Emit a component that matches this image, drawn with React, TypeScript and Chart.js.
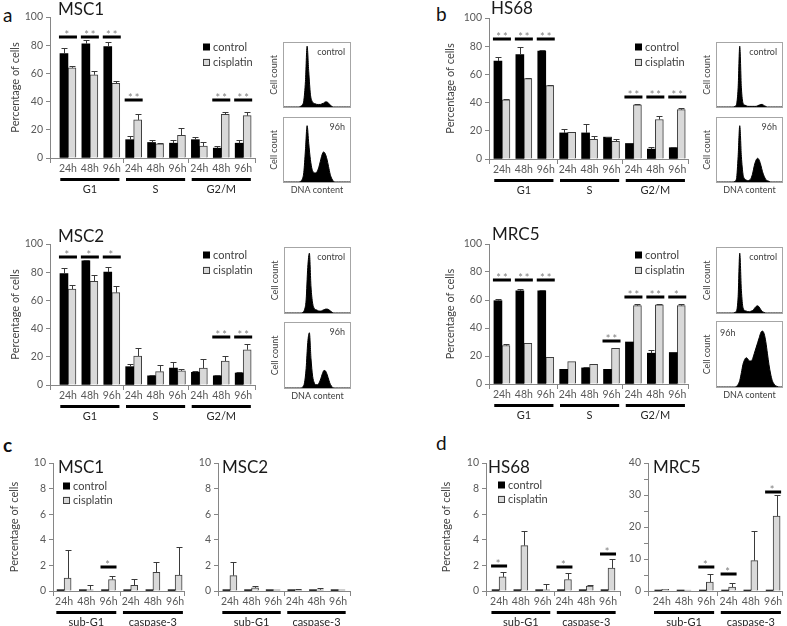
import React, { useEffect, useRef } from 'react';
import { Chart, registerables } from 'chart.js';

Chart.register(...registerables);

const FONT = 'Lato, "DejaVu Sans", sans-serif';
Chart.defaults.font.family = FONT;

// ---------------- data ----------------
const CYCLE_TIMES = ['24h', '48h', '96h', '24h', '48h', '96h', '24h', '48h', '96h'];
const CYCLE_GROUPS = ['G1', 'S', 'G2/M'];
const APOP_TIMES = ['24h', '48h', '96h', '24h', '48h', '96h'];
const APOP_GROUPS = ['sub-G1', 'caspase-3'];
const SERIES = ['control', 'cisplatin'];

// panel a – MSC1 cell cycle
const MSC1_CONTROL = [74, 81, 79, 13, 11, 10.5, 13, 7, 10.5];
const MSC1_CONTROL_ERR = [4, 3, 3, 2.5, 2, 2.5, 2, 1.5, 2];
const MSC1_CISPLATIN = [64, 59, 53, 27, 10, 16, 8.5, 31, 30];
const MSC1_CISPLATIN_ERR = [1, 3, 1.5, 4.5, 0.5, 5, 3, 1.5, 2.5];
const MSC1_SIG: [number, number, string][] = [[0, 86, '*'], [1, 86, '**'], [2, 86, '**'], [3, 41, '**'], [7, 41, '**'], [8, 41, '**']];

// panel b – HS68 cell cycle
const HS68_CONTROL = [69.5, 74, 76.5, 18.5, 18.5, 15.5, 11, 7, 8];
const HS68_CONTROL_ERR = [3, 5.5, 0.5, 3, 6, 0.3, 0, 1.5, 0.3];
const HS68_CISPLATIN = [42, 57, 52, 19, 14, 12.5, 38.5, 28, 35];
const HS68_CISPLATIN_ERR = [0.3, 0.5, 0.3, 0.5, 2, 1.5, 0.5, 2.5, 1];
const HS68_SIG: [number, number, string][] = [[0, 85, '**'], [1, 85, '**'], [2, 85, '**'], [6, 44, '**'], [7, 44, '**'], [8, 44, '**']];

// panel a – MSC2 cell cycle
const MSC2_CONTROL = [79, 88, 80, 13, 6.5, 12, 9, 6.5, 8.5];
const MSC2_CONTROL_ERR = [4, 0.5, 4, 2, 0.5, 4, 1, 0.5, 0.5];
const MSC2_CISPLATIN = [68, 73.5, 65.5, 20.5, 9.5, 10, 12, 17, 25];
const MSC2_CISPLATIN_ERR = [3, 4.5, 5, 6, 4.5, 1.5, 6.5, 3.5, 4];
const MSC2_SIG: [number, number, string][] = [[0, 91, '*'], [1, 91, '*'], [2, 91, '*'], [7, 34, '**'], [8, 34, '**']];

// panel b – MRC5 cell cycle
const MRC5_CONTROL = [59.5, 66.5, 66.5, 10.5, 11.5, 10.5, 30, 22, 22.5];
const MRC5_CONTROL_ERR = [1, 1.5, 1, 0, 1, 0, 0, 2, 0];
const MRC5_CISPLATIN = [27.5, 29, 19, 16, 14, 25.5, 56, 56.5, 56];
const MRC5_CISPLATIN_ERR = [1, 0, 0, 0, 0.5, 0.3, 1.5, 0.3, 1];
const MRC5_SIG: [number, number, string][] = [[0, 74, '**'], [1, 74, '**'], [2, 74, '**'], [5, 31, '**'], [6, 62, '**'], [7, 62, '**'], [8, 62, '*']];

// panel c – MSC1 apoptosis
const MSC1_APO_CONTROL = [0.1, 0.1, 0.1, 0.1, 0.1, 0.1];
const MSC1_APO_CONTROL_ERR = [0, 0, 0, 0, 0, 0];
const MSC1_APO_CISPLATIN = [1.0, 0.1, 0.9, 0.45, 1.45, 1.25];
const MSC1_APO_CISPLATIN_ERR = [2.2, 0.4, 0.3, 0.5, 0.8, 2.15];
const MSC1_APO_SIG: [number, number, string][] = [[2, 1.9, '*']];

// panel c – MSC2 apoptosis
const MSC2_APO_CONTROL = [0.1, 0.1, 0.1, 0.1, 0.1, 0.1];
const MSC2_APO_CONTROL_ERR = [0, 0, 0, 0, 0, 0];
const MSC2_APO_CISPLATIN = [1.2, 0.25, 0.1, 0.1, 0.1, 0.1];
const MSC2_APO_CISPLATIN_ERR = [1.05, 0.15, 0, 0.05, 0.15, 0];
const MSC2_APO_SIG: [number, number, string][] = [];

// panel d – HS68 apoptosis
const HS68_APO_CONTROL = [0.1, 0.1, 0.1, 0.1, 0.1, 0.1];
const HS68_APO_CONTROL_ERR = [0, 0, 0, 0, 0, 0];
const HS68_APO_CISPLATIN = [1.1, 3.55, 0.1, 0.9, 0.38, 1.8];
const HS68_APO_CISPLATIN_ERR = [0.4, 1.15, 0.45, 0.5, 0.05, 0.7];
const HS68_APO_SIG: [number, number, string][] = [[0, 1.95, '*'], [3, 1.9, '*'], [5, 2.9, '*']];

// panel d – MRC5 apoptosis
const MRC5_APO_CONTROL = [0.3, 0.3, 0.3, 0.3, 0.3, 0.3];
const MRC5_APO_CONTROL_ERR = [0, 0, 0, 0, 0, 0];
const MRC5_APO_CISPLATIN = [0.5, 0.3, 2.8, 1.25, 9.5, 23.4];
const MRC5_APO_CISPLATIN_ERR = [0, 0, 2.4, 1.35, 9.2, 6.6];
const MRC5_APO_SIG: [number, number, string][] = [[2, 7.5, '*'], [3, 5.2, '*'], [5, 31, '*']];

// flow-cytometry DNA content histograms (relative cell count per bin)
const MSC1_CTRL_HIST = [0, 0, 0, 0, 0, 0, 0, 0, 0, 0, 1, 3, 10, 40, 95, 55, 20, 9, 6, 5, 4, 4, 4, 5, 6, 8, 8, 6, 3, 1, 0, 0, 0, 0, 0, 0, 0, 0, 0, 0, 0];
const MSC1_96H_HIST = [0, 0, 0, 0, 0, 0, 0, 0, 0, 0, 1, 4, 15, 50, 88, 60, 35, 20, 15, 14, 16, 22, 32, 42, 47, 44, 36, 24, 12, 5, 1, 0, 0, 0, 0, 0, 0, 0, 0, 0, 0];
const HS68_CTRL_HIST = [0, 0, 0, 0, 0, 0, 0, 0, 0, 0, 0, 1, 4, 30, 95, 30, 6, 3, 2, 1, 1, 1, 1, 1, 1, 2, 3, 4, 4, 2, 1, 0, 0, 0, 0, 0, 0, 0, 0, 0, 0];
const HS68_96H_HIST = [0, 0, 0, 0, 0, 0, 0, 0, 0, 0, 0, 1, 5, 40, 88, 40, 12, 5, 3, 2, 3, 6, 14, 26, 34, 37, 34, 26, 16, 9, 4, 2, 1, 0, 0, 0, 0, 0, 0, 0, 0];
const MSC2_CTRL_HIST = [0, 0, 0, 0, 0, 0, 0, 0, 0, 0, 0, 1, 5, 20, 70, 92, 40, 15, 7, 5, 4, 3, 3, 4, 5, 6, 6, 5, 3, 1, 0, 0, 0, 0, 0, 0, 0, 0, 0, 0, 0];
const MSC2_96H_HIST = [0, 0, 0, 0, 0, 0, 0, 0, 0, 0, 0, 2, 8, 30, 70, 85, 45, 18, 8, 5, 5, 8, 14, 22, 27, 26, 20, 12, 5, 2, 0, 0, 0, 0, 0, 0, 0, 0, 0, 0, 0];
const MRC5_CTRL_HIST = [0, 0, 0, 0, 0, 0, 0, 0, 0, 0, 0, 1, 3, 25, 92, 35, 8, 4, 3, 2, 2, 3, 4, 7, 10, 11, 9, 5, 2, 1, 0, 0, 0, 0, 0, 0, 0, 0, 0, 0, 0];
const MRC5_96H_HIST = [0, 0, 0, 0, 0, 0, 0, 0, 0, 0, 0, 0, 1, 4, 10, 22, 35, 42, 45, 43, 40, 40, 44, 52, 60, 68, 76, 84, 86, 82, 70, 52, 34, 20, 10, 5, 2, 1, 0, 0, 0];

// ---------------- styles ----------------
const AXIS = '#868686';
const TICK = '#595959';
const TEXT = '#404040';
const GREY_BAR = '#d9d9d9';

type Sig = [number, number, string];
interface BarPanel {
  canvas: [number, number, number, number];
  axisX: number; plotTop: number; plotBottom: number; plotRight: number;
  xmin: number; xmax: number;
  ymax: number; yStep: number; yLabelStep: number;
  times: string[]; groups: string[];
  control: number[]; controlErr: number[]; cis: number[]; cisErr: number[];
  sig: Sig[];
  title: string; titlePos: [number, number];
  legend?: [number, number]; legendGap?: number;
  yTitleX?: number;
  barW: number;
}

const BAR_PANELS: BarPanel[] = [
  {
    canvas: [0, 0, 263, 200], axisX: 50, plotTop: 17, plotBottom: 158, plotRight: 255,
    xmin: -0.82, xmax: 8.54, ymax: 100, yStep: 10, yLabelStep: 20,
    times: CYCLE_TIMES, groups: CYCLE_GROUPS,
    control: MSC1_CONTROL, controlErr: MSC1_CONTROL_ERR, cis: MSC1_CISPLATIN, cisErr: MSC1_CISPLATIN_ERR,
    sig: MSC1_SIG, title: 'MSC1', titlePos: [58, 10], legend: [203, 47], legendGap: 15, yTitleX: 15, barW: 8,
  },
  {
    canvas: [435, 0, 261, 200], axisX: 489, plotTop: 18, plotBottom: 159, plotRight: 688,
    xmin: -0.59, xmax: 8.49, ymax: 100, yStep: 10, yLabelStep: 20,
    times: CYCLE_TIMES, groups: CYCLE_GROUPS,
    control: HS68_CONTROL, controlErr: HS68_CONTROL_ERR, cis: HS68_CISPLATIN, cisErr: HS68_CISPLATIN_ERR,
    sig: HS68_SIG, title: 'HS68', titlePos: [491, 9], legend: [635, 47], legendGap: 15, yTitleX: 450, barW: 8,
  },
  {
    canvas: [0, 222, 263, 208], axisX: 50, plotTop: 244, plotBottom: 385, plotRight: 255,
    xmin: -0.82, xmax: 8.54, ymax: 100, yStep: 10, yLabelStep: 20,
    times: CYCLE_TIMES, groups: CYCLE_GROUPS,
    control: MSC2_CONTROL, controlErr: MSC2_CONTROL_ERR, cis: MSC2_CISPLATIN, cisErr: MSC2_CISPLATIN_ERR,
    sig: MSC2_SIG, title: 'MSC2', titlePos: [58, 237], legend: [203, 255], legendGap: 15, yTitleX: 15, barW: 8,
  },
  {
    canvas: [435, 222, 261, 208], axisX: 489, plotTop: 244, plotBottom: 384, plotRight: 688,
    xmin: -0.59, xmax: 8.49, ymax: 100, yStep: 10, yLabelStep: 20,
    times: CYCLE_TIMES, groups: CYCLE_GROUPS,
    control: MRC5_CONTROL, controlErr: MRC5_CONTROL_ERR, cis: MRC5_CISPLATIN, cisErr: MRC5_CISPLATIN_ERR,
    sig: MRC5_SIG, title: 'MRC5', titlePos: [492, 235], legend: [635, 255], legendGap: 15, yTitleX: 450, barW: 8,
  },
  {
    canvas: [0, 452, 192, 174], axisX: 53, plotTop: 463, plotBottom: 591, plotRight: 184,
    xmin: -0.5, xmax: 5.4, ymax: 10, yStep: 1, yLabelStep: 2,
    times: APOP_TIMES, groups: APOP_GROUPS,
    control: MSC1_APO_CONTROL, controlErr: MSC1_APO_CONTROL_ERR, cis: MSC1_APO_CISPLATIN, cisErr: MSC1_APO_CISPLATIN_ERR,
    sig: MSC1_APO_SIG, title: 'MSC1', titlePos: [58, 468], legend: [63, 486], legendGap: 14, yTitleX: 14, barW: 7,
  },
  {
    canvas: [190, 452, 168, 174], axisX: 218, plotTop: 463, plotBottom: 591, plotRight: 350,
    xmin: -0.55, xmax: 5.55, ymax: 10, yStep: 1, yLabelStep: 2,
    times: APOP_TIMES, groups: APOP_GROUPS,
    control: MSC2_APO_CONTROL, controlErr: MSC2_APO_CONTROL_ERR, cis: MSC2_APO_CISPLATIN, cisErr: MSC2_APO_CISPLATIN_ERR,
    sig: MSC2_APO_SIG, title: 'MSC2', titlePos: [222, 468], barW: 7,
  },
  {
    canvas: [435, 452, 192, 174], axisX: 486, plotTop: 463, plotBottom: 591, plotRight: 620,
    xmin: -0.6, xmax: 5.55, ymax: 10, yStep: 1, yLabelStep: 2,
    times: APOP_TIMES, groups: APOP_GROUPS,
    control: HS68_APO_CONTROL, controlErr: HS68_APO_CONTROL_ERR, cis: HS68_APO_CISPLATIN, cisErr: HS68_APO_CISPLATIN_ERR,
    sig: HS68_APO_SIG, title: 'HS68', titlePos: [488, 468], legend: [498, 485], legendGap: 14, yTitleX: 446, barW: 7,
  },
  {
    canvas: [625, 452, 162, 174], axisX: 648, plotTop: 463, plotBottom: 591, plotRight: 783,
    xmin: -0.62, xmax: 5.4, ymax: 40, yStep: 5, yLabelStep: 10,
    times: APOP_TIMES, groups: APOP_GROUPS,
    control: MRC5_APO_CONTROL, controlErr: MRC5_APO_CONTROL_ERR, cis: MRC5_APO_CISPLATIN, cisErr: MRC5_APO_CISPLATIN_ERR,
    sig: MRC5_APO_SIG, title: 'MRC5', titlePos: [653, 468], barW: 7,
  },
];

interface HistPanel { box: [number, number, number, number]; values: number[]; label: string; labelLeft?: boolean; dna: boolean; }
const HISTS: HistPanel[] = [
  { box: [284, 43, 66, 64], values: MSC1_CTRL_HIST, label: 'control', dna: false },
  { box: [284, 118, 66, 64], values: MSC1_96H_HIST, label: '96h', dna: true },
  { box: [717, 43, 65, 64], values: HS68_CTRL_HIST, label: 'control', dna: false },
  { box: [717, 118, 65, 64], values: HS68_96H_HIST, label: '96h', dna: true },
  { box: [285, 248, 65, 65], values: MSC2_CTRL_HIST, label: 'control', dna: false },
  { box: [285, 323, 65, 65], values: MSC2_96H_HIST, label: '96h', dna: true },
  { box: [717, 248, 65, 65], values: MRC5_CTRL_HIST, label: 'control', dna: false },
  { box: [717, 322, 65, 65], values: MRC5_96H_HIST, label: '96h', labelLeft: true, dna: true },
];

const LETTERS: [string, number, number, number][] = [
  ['a', 3, 5, 400], ['b', 436, 4, 400], ['c', 3, 435, 700], ['d', 436, 433, 400],
];

// ---------------- drawing ----------------
function makeBarPlugin(p: BarPanel) {
  const cl = p.canvas[0];
  const ct = p.canvas[1];
  return {
    id: 'barDeco',
    afterDatasetsDraw(chart: any) {
      const ctx = chart.ctx;
      const ys = chart.scales.y;
      ctx.save();
      ctx.strokeStyle = '#3a3a3a';
      ctx.lineWidth = 1;
      const sets: [number, number[], number[]][] = [[0, p.control, p.controlErr], [1, p.cis, p.cisErr]];
      for (const [di, vals, errs] of sets) {
        const meta = chart.getDatasetMeta(di);
        meta.data.forEach((el: any, i: number) => {
          const e = errs[i];
          if (!e) return;
          const x = Math.round(el.x) + 0.5;
          const y0 = ys.getPixelForValue(vals[i]);
          const y1 = Math.round(ys.getPixelForValue(vals[i] + e)) + 0.5;
          ctx.beginPath();
          ctx.moveTo(x, y0);
          ctx.lineTo(x, y1);
          ctx.moveTo(x - 3, y1);
          ctx.lineTo(x + 3, y1);
          ctx.stroke();
        });
      }
      ctx.restore();
    },
    afterDraw(chart: any) {
      const ctx = chart.ctx;
      const xs = chart.scales.x;
      const ys = chart.scales.y;
      const bottom = p.plotBottom - ct;
      ctx.save();
      // significance bars
      for (const [i, v, t] of p.sig) {
        const c = xs.getPixelForValue(i);
        const y = Math.round(ys.getPixelForValue(v));
        const half = p.barW + 1;
        ctx.fillStyle = '#000';
        ctx.fillRect(c - half, y - 1.5, half * 2, 3);
        ctx.fillStyle = '#7f7f7f';
        ctx.font = `11px ${FONT}`;
        ctx.textAlign = 'center';
        ctx.textBaseline = 'alphabetic';
        (ctx as any).letterSpacing = '2px';
        ctx.fillText(t, c + (t.length > 1 ? 1 : 0), y + 2);
        (ctx as any).letterSpacing = '0px';
      }
      // group separator ticks
      ctx.strokeStyle = AXIS;
      ctx.lineWidth = 1;
      const seps = [xs.left, xs.right];
      for (let g = 1; g < p.groups.length; g++) seps.push(xs.getPixelForValue(3 * g - 0.5));
      ctx.beginPath();
      for (const s of seps) {
        const x = Math.round(s) + 0.5;
        ctx.moveTo(x, bottom);
        ctx.lineTo(x, bottom + 5);
      }
      ctx.stroke();
      // group bars and labels
      p.groups.forEach((g, k) => {
        const a = xs.getPixelForValue(3 * k - 0.35);
        const b = xs.getPixelForValue(3 * k + 2.35);
        ctx.fillStyle = '#000';
        ctx.fillRect(a, bottom + 20, b - a, 3);
        ctx.fillStyle = '#262626';
        ctx.font = `11px ${FONT}`;
        ctx.textAlign = 'center';
        ctx.textBaseline = 'middle';
        ctx.fillText(g, xs.getPixelForValue(3 * k + 1), bottom + 31);
      });
      // title
      ctx.fillStyle = '#1a1a1a';
      ctx.font = `17px ${FONT}`;
      ctx.textAlign = 'left';
      ctx.textBaseline = 'middle';
      ctx.fillText(p.title, p.titlePos[0] - cl, p.titlePos[1] - ct);
      // legend
      if (p.legend) {
        const lx = p.legend[0] - cl;
        const ly = p.legend[1] - ct;
        const gap = p.legendGap || 15;
        ctx.fillStyle = '#000';
        ctx.fillRect(lx, ly - 3.5, 7, 7);
        ctx.fillStyle = GREY_BAR;
        ctx.fillRect(lx, ly + gap - 3.5, 7, 7);
        ctx.strokeStyle = '#404040';
        ctx.strokeRect(Math.round(lx) + 0.5, Math.round(ly + gap - 3.5) + 0.5, 6, 6);
        ctx.fillStyle = TEXT;
        ctx.font = `11px ${FONT}`;
        ctx.textAlign = 'left';
        ctx.textBaseline = 'middle';
        ctx.fillText(SERIES[0], lx + 10, ly);
        ctx.fillText(SERIES[1], lx + 10, ly + gap);
      }
      // y title
      if (p.yTitleX !== undefined) {
        ctx.save();
        ctx.translate(p.yTitleX - cl, (p.plotTop + p.plotBottom) / 2 - ct);
        ctx.rotate(-Math.PI / 2);
        ctx.fillStyle = TEXT;
        ctx.font = `11px ${FONT}`;
        ctx.textAlign = 'center';
        ctx.textBaseline = 'middle';
        ctx.fillText('Percentage of cells', 0, 0);
        ctx.restore();
      }
      ctx.restore();
    },
  };
}

function buildBarChart(canvas: HTMLCanvasElement, p: BarPanel) {
  const [left, top, width, height] = p.canvas;
  const tickFont = { family: FONT, size: 10.5 };
  return new Chart(canvas, {
    type: 'bar',
    data: {
      datasets: [
        {
          label: SERIES[0],
          data: p.control.map((v, i) => ({ x: i, y: v })),
          backgroundColor: '#000',
          borderWidth: 0,
          barThickness: p.barW,
        },
        {
          label: SERIES[1],
          data: p.cis.map((v, i) => ({ x: i, y: v })),
          backgroundColor: GREY_BAR,
          borderColor: '#3f3f3f',
          borderWidth: 1,
          barThickness: p.barW,
        },
      ],
    } as any,
    options: {
      animation: false,
      responsive: false,
      maintainAspectRatio: false,
      layout: { padding: { left: 0, top: p.plotTop - top, right: left + width - p.plotRight, bottom: 0 } },
      plugins: { legend: { display: false }, tooltip: { enabled: false }, title: { display: false } },
      scales: {
        x: {
          type: 'linear',
          min: p.xmin,
          max: p.xmax,
          offset: false,
          grid: { display: false, drawTicks: false, tickLength: 0 },
          border: { display: true, color: AXIS, width: 1 },
          afterBuildTicks: (s: any) => {
            s.ticks = p.times.map((_, i) => ({ value: i }));
          },
          afterFit: (s: any) => {
            s.height = top + height - p.plotBottom;
          },
          ticks: {
            autoSkip: false,
            maxRotation: 0,
            minRotation: 0,
            padding: 4.6,
            color: TICK,
            font: tickFont,
            callback: (v: any) => p.times[v] ?? '',
          },
        },
        y: {
          min: 0,
          max: p.ymax,
          grid: { drawOnChartArea: false, drawTicks: true, tickLength: 4, color: AXIS },
          border: { display: true, color: AXIS, width: 1 },
          afterFit: (s: any) => {
            s.width = p.axisX - left;
          },
          ticks: {
            stepSize: p.yStep,
            padding: 3,
            color: TICK,
            font: tickFont,
            callback: (v: any) => (Math.abs(v % p.yLabelStep) < 1e-9 ? String(v) : ''),
          },
        },
      },
    } as any,
    plugins: [makeBarPlugin(p)],
  });
}

function histBox(h: HistPanel): [number, number, number, number] {
  const [l, t, w, hh] = h.box;
  return [l - 20, t - 2, w + 24, hh + (h.dna ? 18 : 4)];
}

function buildHist(canvas: HTMLCanvasElement, h: HistPanel) {
  return new Chart(canvas, {
    type: 'line',
    data: {
      datasets: [
        {
          data: h.values.map((v, i) => ({ x: i, y: v })),
          fill: 'origin',
          backgroundColor: '#000',
          borderColor: '#000',
          borderWidth: 1,
          pointRadius: 0,
          cubicInterpolationMode: 'monotone',
        },
      ],
    } as any,
    options: {
      animation: false,
      responsive: false,
      maintainAspectRatio: false,
      layout: { padding: { left: 20, top: 2, right: 4, bottom: h.dna ? 16 : 2 } },
      plugins: { legend: { display: false }, tooltip: { enabled: false } },
      scales: {
        x: { type: 'linear', min: 0, max: h.values.length - 1, display: false },
        y: { min: 0, max: 100, display: false },
      },
    } as any,
    plugins: [
      {
        id: 'histDeco',
        afterDraw(chart: any) {
          const ctx = chart.ctx;
          const a = chart.chartArea;
          ctx.save();
          ctx.strokeStyle = '#a6a6a6';
          ctx.lineWidth = 1;
          ctx.strokeRect(Math.round(a.left) - 0.5, Math.round(a.top) - 0.5, Math.round(a.right - a.left) + 1, Math.round(a.bottom - a.top) + 1);
          ctx.fillStyle = TEXT;
          ctx.font = `9px ${FONT}`;
          ctx.textBaseline = 'middle';
          if (h.labelLeft) {
            ctx.textAlign = 'left';
            ctx.fillText(h.label, a.left + 3, a.top + 11);
          } else {
            ctx.textAlign = 'right';
            ctx.fillText(h.label, a.right - 5, a.top + 9);
          }
          if (h.dna) {
            ctx.textAlign = 'center';
            ctx.fillText('DNA content', (a.left + a.right) / 2, a.bottom + 8);
          }
          ctx.save();
          ctx.translate(a.left - 10, (a.top + a.bottom) / 2);
          ctx.rotate(-Math.PI / 2);
          ctx.textAlign = 'center';
          ctx.fillText('Cell count', 0, 0);
          ctx.restore();
          ctx.restore();
        },
      },
    ],
  });
}

function ChartCanvas({ box, make }: { box: [number, number, number, number]; make: (c: HTMLCanvasElement) => Chart }) {
  const ref = useRef<HTMLCanvasElement | null>(null);
  useEffect(() => {
    if (!ref.current) return;
    const ch = make(ref.current);
    return () => ch.destroy();
  }, []);
  return (
    <canvas
      ref={ref}
      width={box[2]}
      height={box[3]}
      style={{ position: 'absolute', left: box[0], top: box[1], width: box[2], height: box[3] }}
    />
  );
}

export default function App() {
  return (
    <div
      style={{
        position: 'absolute', left: 0, top: 0, width: 787, height: 626,
        background: '#fff', overflow: 'hidden', fontFamily: FONT,
      }}
    >
      {LETTERS.map(([t, x, y, w]) => (
        <div key={t} style={{ position: 'absolute', left: x, top: y, fontSize: 19, lineHeight: '19px', fontWeight: w, color: '#111' }}>{t}</div>
      ))}
      {BAR_PANELS.map((p, i) => (
        <ChartCanvas key={'b' + i} box={p.canvas} make={(c) => buildBarChart(c, p)} />
      ))}
      {HISTS.map((h, i) => (
        <ChartCanvas key={'h' + i} box={histBox(h)} make={(c) => buildHist(c, h)} />
      ))}
    </div>
  );
}
